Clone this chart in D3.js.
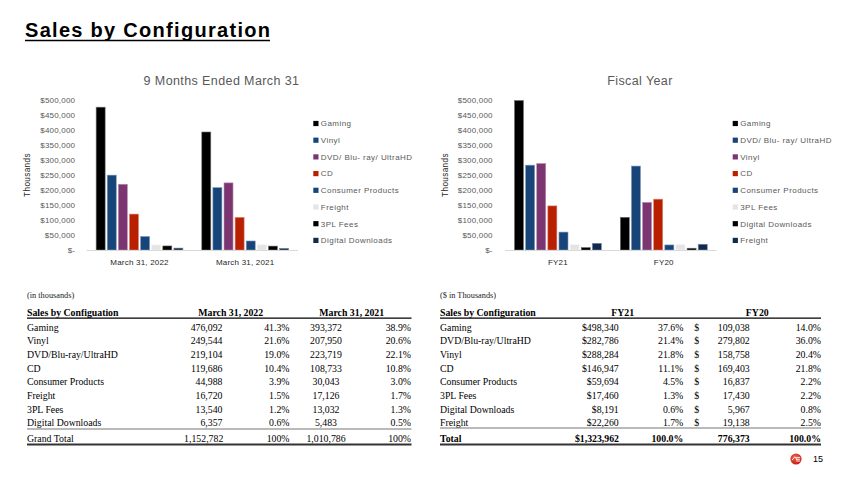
<!DOCTYPE html>
<html>
<head>
<meta charset="utf-8">
<script src="https://cdn.jsdelivr.net/npm/d3@7"></script>
<style>
  html, body { margin: 0; padding: 0; background: #fff; }
  svg { display: block; }
</style>
</head>
<body>
<svg id="chart" width="850" height="477"></svg>
<script>
// ---------------- DATA ----------------
const leftCategories = ["March 31, 2022", "March 31, 2021"];
const leftSeries = ["Gaming", "Vinyl", "DVD/ Blu- ray/ UltraHD", "CD", "Consumer Products", "Freight", "3PL Fees", "Digital Downloads"];
const leftTableNames = ["Gaming", "Vinyl", "DVD/Blu-ray/UltraHD", "CD", "Consumer Products", "Freight", "3PL Fees", "Digital Downloads"];
const leftValues2022 = [476092, 249544, 219104, 119686, 44988, 16720, 13540, 6357];
const leftValues2021 = [393372, 207950, 223719, 108733, 30043, 17126, 13032, 5483];
const leftPct2022 = ["41.3%", "21.6%", "19.0%", "10.4%", "3.9%", "1.5%", "1.2%", "0.6%"];
const leftPct2021 = ["38.9%", "20.6%", "22.1%", "10.8%", "3.0%", "1.7%", "1.3%", "0.5%"];
const leftTotals = ["1,152,782", "100%", "1,010,786", "100%"];

const rightCategories = ["FY21", "FY20"];
const rightSeries = ["Gaming", "DVD/ Blu- ray/ UltraHD", "Vinyl", "CD", "Consumer Products", "3PL Fees", "Digital Downloads", "Freight"];
const rightTableNames = ["Gaming", "DVD/Blu-ray/UltraHD", "Vinyl", "CD", "Consumer Products", "3PL Fees", "Digital Downloads", "Freight"];
const rightValuesFY21 = [498340, 282786, 288284, 146947, 59694, 17460, 8191, 22260];
const rightValuesFY20 = [109038, 279802, 158758, 169403, 16837, 17430, 5967, 19138];
const rightPctFY21 = ["37.6%", "21.4%", "21.8%", "11.1%", "4.5%", "1.3%", "0.6%", "1.7%"];
const rightPctFY20 = ["14.0%", "36.0%", "20.4%", "21.8%", "2.2%", "2.2%", "0.8%", "2.5%"];
const rightTotals = ["$1,323,962", "100.0%", "776,373", "100.0%"];

const yTicks = [0, 50000, 100000, 150000, 200000, 250000, 300000, 350000, 400000, 450000, 500000];

// ---------------- STYLES ----------------
const leftColors = ["#000000", "#17457a", "#7b3571", "#b82000", "#17457a", "#e4e4e4", "#000000", "#0f2a4d"];
const rightColors = ["#000000", "#17457a", "#7b3571", "#b82000", "#17457a", "#e4e4e4", "#000000", "#0f2a4d"];
const sans = "'Liberation Sans', Arial, sans-serif";
const serif = "'Liberation Serif', 'Times New Roman', serif";

const svg = d3.select("#chart");

// Title
svg.append("text")
  .attr("x", 25).attr("y", 37)
  .attr("font-family", sans).attr("font-weight", "bold").attr("font-size", 20)
  .attr("textLength", 245).attr("lengthAdjust", "spacing")
  .attr("fill", "#000")
  .text("Sales by Configuration");
svg.append("line")
  .attr("x1", 25).attr("x2", 270).attr("y1", 40.5).attr("y2", 40.5)
  .attr("stroke", "#000").attr("stroke-width", 1.6);

const fmtTick = v => v === 0 ? "$-" : "$" + d3.format(",")(v);

function drawChart(opts) {
  const g = svg.append("g");
  const x = d3.scaleBand().domain(opts.categories).range([opts.x0, opts.x1]).paddingInner(0).paddingOuter(0);
  const xs = d3.scaleBand().domain(d3.range(opts.series.length)).range([0, x.bandwidth()])
    .paddingInner(0.19).paddingOuter(0.85);
  const y = d3.scaleLinear().domain([0, 500000]).range([250, 100]);

  g.append("text").attr("x", opts.titleX).attr("y", 84.5)
    .attr("text-anchor", "middle").attr("font-family", sans).attr("font-size", 12.5)
    .attr("letter-spacing", 0.4).attr("fill", "#595959").text(opts.title);

  const ya = g.append("g").attr("transform", `translate(${opts.x0},0)`)
    .call(d3.axisLeft(y).tickValues(yTicks).tickFormat(fmtTick).tickSize(0).tickPadding(opts.tickPad));
  ya.select(".domain").remove();
  ya.selectAll("text").attr("font-family", sans).attr("font-size", 8).attr("fill", "#595959").attr("letter-spacing", 0.2);

  g.append("text").attr("transform", `translate(${opts.ylabelX},175) rotate(-90)`)
    .attr("text-anchor", "middle").attr("font-family", sans).attr("font-size", 8.3)
    .attr("fill", "#262626").attr("letter-spacing", 0.3).text("Thousands");

  opts.categories.forEach((cat, ci) => {
    const vals = opts.values[ci];
    g.append("g").selectAll("rect").data(vals).join("rect")
      .attr("x", (d, i) => x(cat) + xs(i))
      .attr("y", d => y(d))
      .attr("width", xs.bandwidth())
      .attr("height", d => y(0) - y(d))
      .attr("fill", (d, i) => opts.colors[i])
      .attr("stroke", (d, i) => d3.interpolateRgb(opts.colors[i], "#ffffff")(0.45))
      .attr("stroke-width", 0.6);
  });

  g.append("line").attr("x1", opts.x0).attr("x2", opts.x1).attr("y1", 250.5).attr("y2", 250.5)
    .attr("stroke", "#d9d9d9").attr("stroke-width", 1);

  const xa = g.append("g").attr("transform", "translate(0,250)")
    .call(d3.axisBottom(x).tickSize(0).tickPadding(9));
  xa.select(".domain").remove();
  xa.selectAll("text").attr("font-family", sans).attr("font-size", 8).attr("fill", "#262626").attr("letter-spacing", 0.2);

  const lg = g.append("g").attr("transform", `translate(${opts.legendX},0)`);
  opts.series.forEach((s, i) => {
    const cy = 123.5 + i * 16.7;
    lg.append("rect").attr("x", 0).attr("y", cy - 2.6).attr("width", 5.2).attr("height", 5.2).attr("fill", opts.colors[i]);
    lg.append("text").attr("x", 7.5).attr("y", cy).attr("dy", "0.35em")
      .attr("font-family", sans).attr("font-size", 8).attr("letter-spacing", 0.45)
      .attr("fill", "#595959").text(s);
  });
}

drawChart({
  categories: leftCategories, series: leftSeries, colors: leftColors,
  values: [leftValues2022, leftValues2021],
  x0: 86.7, x1: 298, tickPad: 11.5, ylabelX: 30, titleX: 221.5, legendX: 313.3,
  title: "9 Months Ended March 31"
});
drawChart({
  categories: rightCategories, series: rightSeries, colors: rightColors,
  values: [rightValuesFY21, rightValuesFY20],
  x0: 505, x1: 716.7, tickPad: 12.3, ylabelX: 448, titleX: 640, legendX: 732.7,
  title: "Fiscal Year"
});

// ---------------- TABLES ----------------
const fmt = d3.format(",");
function drawTable(t) {
  const g = svg.append("g").attr("font-family", serif).attr("font-size", 9.8).attr("fill", "#000");
  g.append("text").attr("x", t.x).attr("y", 295).attr("dy", "0.35em").attr("font-size", 8.3).attr("fill", "#222").text(t.note);
  const hy = 313;
  g.append("text").attr("x", t.x).attr("y", hy).attr("dy", "0.35em").attr("font-weight", "bold").text(t.header);
  t.headCols.forEach(h => {
    g.append("text").attr("x", h.x).attr("y", hy).attr("dy", "0.35em").attr("text-anchor", "middle")
      .attr("font-weight", "bold").text(h.text);
  });
  g.append("line").attr("x1", t.x).attr("x2", t.xEnd).attr("y1", 318.2).attr("y2", 318.2).attr("stroke", "#000").attr("stroke-width", 1.3);

  t.names.forEach((n, i) => {
    const ry = 327.2 + i * 13.65;
    g.append("text").attr("x", t.x).attr("y", ry).attr("dy", "0.35em").text(n);
    t.cols.forEach(c => {
      g.append("text").attr("x", c.x).attr("y", ry).attr("dy", "0.35em").attr("text-anchor", c.anchor).text(c.get(i));
    });
  });
  g.append("line").attr("x1", t.x).attr("x2", t.xEnd).attr("y1", t.sepY).attr("y2", t.sepY).attr("stroke", "#777").attr("stroke-width", 1.2);
  const ty = t.totalY;
  g.append("text").attr("x", t.x).attr("y", ty).attr("dy", "0.35em").attr("font-weight", t.totalBold ? "bold" : "normal").text(t.totalLabel);
  t.totalCols.forEach((c, k) => {
    g.append("text").attr("x", c.x).attr("y", ty).attr("dy", "0.35em").attr("text-anchor", c.anchor)
      .attr("font-weight", t.totalBold ? "bold" : "normal").text(t.totals[k]);
  });
  g.append("line").attr("x1", t.x).attr("x2", t.xEnd).attr("y1", 444.5).attr("y2", 444.5).attr("stroke", "#333").attr("stroke-width", 2.2);
}

drawTable({
  x: 27, xEnd: 411.5, note: "(in thousands)", header: "Sales by Configuation",
  headCols: [{ x: 230.7, text: "March 31, 2022" }, { x: 351.7, text: "March 31, 2021" }],
  names: leftTableNames,
  cols: [
    { x: 222.5, anchor: "end", get: i => fmt(leftValues2022[i]) },
    { x: 289.5, anchor: "end", get: i => leftPct2022[i] },
    { x: 326, anchor: "middle", get: i => fmt(leftValues2021[i]) },
    { x: 411, anchor: "end", get: i => leftPct2021[i] }
  ],
  sepY: 429, totalY: 438.8, totalLabel: "Grand Total", totalBold: false, totals: leftTotals,
  totalCols: [{ x: 223.3, anchor: "end" }, { x: 289.5, anchor: "end" }, { x: 326, anchor: "middle" }, { x: 411, anchor: "end" }]
});

drawTable({
  x: 440, xEnd: 821, note: "($ in Thousands)", header: "Sales by Configuration",
  headCols: [{ x: 622.7, text: "FY21" }, { x: 757.3, text: "FY20" }],
  names: rightTableNames,
  cols: [
    { x: 618.7, anchor: "end", get: i => "$" + fmt(rightValuesFY21[i]) },
    { x: 683.3, anchor: "end", get: i => rightPctFY21[i] },
    { x: 694.3, anchor: "start", get: i => "$" },
    { x: 749.7, anchor: "end", get: i => fmt(rightValuesFY20[i]) },
    { x: 821, anchor: "end", get: i => rightPctFY20[i] }
  ],
  sepY: 428, totalY: 438.3, totalLabel: "Total", totalBold: true, totals: rightTotals,
  totalCols: [{ x: 619, anchor: "end" }, { x: 683.3, anchor: "end" }, { x: 749.7, anchor: "end" }, { x: 821, anchor: "end" }]
});

// ---------------- LOGO & PAGE NUMBER ----------------
const logo = svg.append("g").attr("transform", "translate(796,459)");
const grad = svg.append("defs").append("radialGradient").attr("id", "lg").attr("cx", "40%").attr("cy", "35%").attr("r", "70%");
grad.append("stop").attr("offset", "0%").attr("stop-color", "#f0654a");
grad.append("stop").attr("offset", "100%").attr("stop-color", "#c4160f");
logo.append("circle").attr("r", 5.6).attr("fill", "url(#lg)");
logo.append("path").attr("d", "M-4,1.2 L-1.2,-2.2 L1.5,1.2 M0,0.2 L4.2,0.2 M0.2,-1.6 L4.2,-1.6 M0.2,2 L4.2,2")
  .attr("stroke", "#fff").attr("stroke-width", 0.9).attr("fill", "none");
svg.append("text").attr("x", 813).attr("y", 459).attr("dy", "0.35em")
  .attr("font-family", sans).attr("font-size", 9).attr("fill", "#000").text("15");
</script>
</body>
</html>
